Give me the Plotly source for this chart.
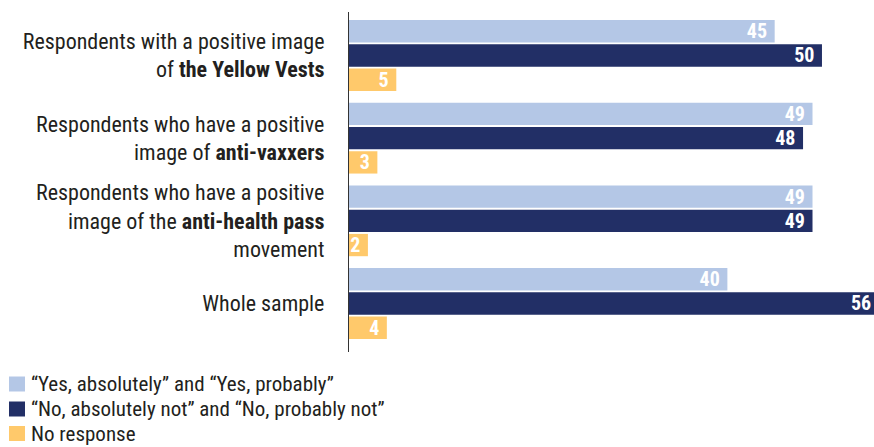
import plotly.graph_objects as go

# Survey groups (top to bottom) and answer shares in percent
groups = [
    "Respondents with a positive image<br>of <b>the Yellow Vests</b>",
    "Respondents who have a positive<br>image of <b>anti-vaxxers</b>",
    "Respondents who have a positive<br>image of the <b>anti-health pass</b><br>movement",
    "Whole sample",
]
yes_vals = [45, 49, 49, 40]
no_vals = [50, 48, 49, 56]
na_vals = [5, 3, 2, 4]

series_names = [
    "\u201cYes, absolutely\u201d and \u201cYes, probably\u201d",
    "\u201cNo, absolutely not\u201d and \u201cNo, probably not\u201d",
    "No response",
]
series_colors = ["#b4c7e6", "#222f66", "#ffc96b"]

FONT = "Liberation Sans Narrow, Roboto Condensed, Arial Narrow, sans-serif"

W, H = 874, 447
M_L, M_R, M_T, M_B = 349, 0, 12, 95
PLOT_W = W - M_L - M_R
PLOT_H = H - M_T - M_B


def px_to_paper(px, py):
    """Convert page pixels to paper coordinates."""
    return (px - M_L) / PLOT_W, (H - M_B - py) / PLOT_H


fig = go.Figure()
for name, vals, color in zip(series_names, [yes_vals, no_vals, na_vals], series_colors):
    fig.add_trace(go.Bar(
        y=groups, x=vals, orientation="h", name=name,
        marker=dict(color=color, line=dict(width=0)),
        text=vals, texttemplate="<b>%{x}</b>\u00a0", textposition="inside",
        insidetextanchor="end", constraintext="none", textangle=0,
        textfont=dict(family=FONT, size=20, color="white"),
        showlegend=False, hoverinfo="skip",
    ))

# Legend below the chart: coloured swatch + label per series
legend_rows = [384, 409, 433.5]
for name, color, cy in zip(series_names, series_colors, legend_rows):
    x0, y0 = px_to_paper(9, cy + 7.5)
    x1, y1 = px_to_paper(25, cy - 7.5)
    fig.add_shape(type="rect", xref="paper", yref="paper",
                  x0=x0, x1=x1, y0=y0, y1=y1,
                  fillcolor=color, line=dict(width=0))
    tx, ty = px_to_paper(29, cy)
    fig.add_annotation(xref="paper", yref="paper", x=tx, y=ty,
                       xanchor="left", yanchor="middle", showarrow=False,
                       text=name, font=dict(family=FONT, size=21, color="#231f20"))

fig.update_layout(
    width=W, height=H,
    margin=dict(l=M_L, r=M_R, t=M_T, b=M_B, autoexpand=False),
    paper_bgcolor="white", plot_bgcolor="white",
    barmode="group", bargap=0.12, bargroupgap=0.08,
    showlegend=False,
    font=dict(family=FONT, color="#231f20"),
    xaxis=dict(range=[0, 55.5], visible=False, fixedrange=True),
    yaxis=dict(
        type="category", range=[3.587, -0.526],
        showline=True, linecolor="#333333", linewidth=1.3,
        showgrid=False, zeroline=False, ticks="",
        ticklabelstandoff=19,
        tickfont=dict(family=FONT, size=22, color="#231f20"),
    ),
)

fig.write_html("out.html")
